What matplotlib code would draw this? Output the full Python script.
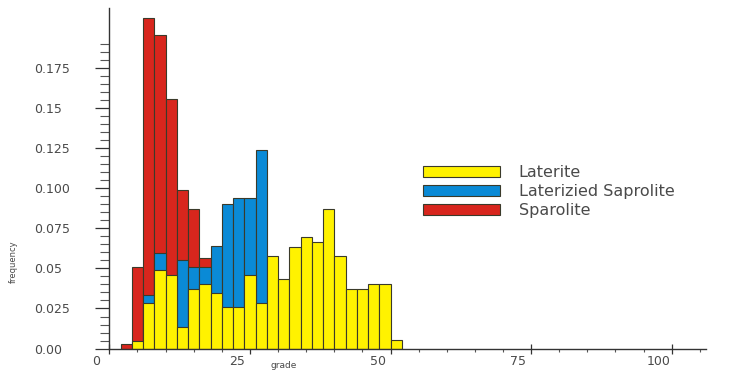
import numpy as np
import matplotlib
matplotlib.use('Agg')
import matplotlib.pyplot as plt
import matplotlib.transforms as mtransforms
from matplotlib.ticker import FixedLocator

# left edges of the 2-unit grade bins
bins = [2, 4, 6, 8, 10, 12, 14, 16, 18, 20, 22, 24, 26,
        28, 30, 32, 34, 36, 38, 40, 42, 44, 46, 48, 50]

laterite = [0.0, 0.0049, 0.0286, 0.0489, 0.0459, 0.0136, 0.0370, 0.0401,
            0.0345, 0.0257, 0.0257, 0.0459, 0.0286, 0.0578, 0.0432, 0.0636,
            0.0695, 0.0664, 0.0870, 0.0578, 0.0370, 0.0370, 0.0403, 0.0403,
            0.0053]
saprolite = [0.0, 0.0, 0.0336, 0.0595, 0.0, 0.0553, 0.0511, 0.0511,
             0.0640, 0.0901, 0.0943, 0.0943, 0.1240, 0.0, 0.0, 0.0,
             0.0, 0.0, 0.0, 0.0, 0.0, 0.0, 0.0, 0.0, 0.0]
sparolite = [0.0026, 0.0507, 0.2066, 0.1960, 0.1557, 0.0990, 0.0870, 0.0568,
             0.0, 0.0, 0.0, 0.0, 0.0, 0.0, 0.0, 0.0,
             0.0, 0.0, 0.0, 0.0, 0.0, 0.0, 0.0, 0.0, 0.0]

series = [
    ('Sparolite', sparolite, '#d8261d'),
    ('Laterizied Saprolite', saprolite, '#0a8ad6'),
    ('Laterite', laterite, '#fff200'),
]

yticks = [0.0, 0.025, 0.05, 0.075, 0.100, 0.125, 0.15, 0.175]
ylabels = ['0.00', '0.025', '0.05', '0.075', '0.100', '0.125', '0.15', '0.175']
xticks = [0, 25, 50, 75, 100]

txt = '#4a4a4a'

fig = plt.figure(figsize=(7.34, 3.70), dpi=100)
ax = fig.add_axes([0.149, 0.0581, 0.8128, 0.9203])

x = np.array(bins)
handles = {}
for z, (name, vals, col) in enumerate(series):
    v = np.array(vals)
    m = v > 0
    b = ax.bar(x[m], v[m], width=2, align='edge', color=col,
               edgecolor='#3a3a2a', linewidth=0.8, zorder=z + 1)
    handles[name] = b

ax.set_xlim(0, 106.1)
ax.set_ylim(0, 0.2128)

for s in ['top', 'right']:
    ax.spines[s].set_visible(False)
for s in ['left', 'bottom']:
    ax.spines[s].set_color('#333333')
    ax.spines[s].set_linewidth(1.0)
    ax.spines[s].set_zorder(5)

# y axis: long major ticks, short minor ticks every 0.005
ax.set_yticks(yticks)
ax.set_yticklabels(ylabels)
minor_y = [i * 0.005 for i in range(39) if i % 5 != 0]
ax.yaxis.set_minor_locator(FixedLocator(minor_y))
ax.tick_params(axis='y', which='major', length=10, width=0.9, color='#333333',
               pad=44, labelsize=9, labelcolor=txt)
ax.tick_params(axis='y', which='minor', length=6.5, width=0.8, color='#555555')
for lbl in ax.get_yticklabels():
    lbl.set_horizontalalignment('left')

# x axis
ax.set_xticks(xticks)
ax.set_xticklabels([str(t) for t in xticks])
ax.xaxis.set_minor_locator(FixedLocator([t for t in range(5, 106, 5) if t % 25 != 0]))
ax.tick_params(axis='x', which='major', direction='inout', length=7, width=0.9,
               color='#333333', pad=1, labelsize=9, labelcolor=txt)
ax.tick_params(axis='x', which='minor', direction='out', length=2.5, width=0.8,
               color='#555555')
shift = mtransforms.ScaledTranslation(-13 / 100, 0, fig.dpi_scale_trans)
for lbl in ax.get_xticklabels():
    lbl.set_transform(lbl.get_transform() + shift)

ax.set_xlabel('grade', fontsize=6.5, color=txt, va='center')
ax.xaxis.set_label_coords(0.2927, -0.0485)
ax.set_ylabel('frequency', fontsize=6, color=txt, va='center')
ax.yaxis.set_label_coords(-0.1616, 0.254)

order = ['Laterite', 'Laterizied Saprolite', 'Sparolite']
leg = ax.legend([handles[n] for n in order], order, loc='upper left',
                bbox_to_anchor=(0.576, 0.553), bbox_transform=fig.transFigure,
                frameon=False, fontsize=11.5, handlelength=4.82, handleheight=0.69,
                handletextpad=1.19, labelspacing=0.25, borderaxespad=0,
                borderpad=0)
for t in leg.get_texts():
    t.set_color(txt)

fig.savefig('out.png', dpi=100)
